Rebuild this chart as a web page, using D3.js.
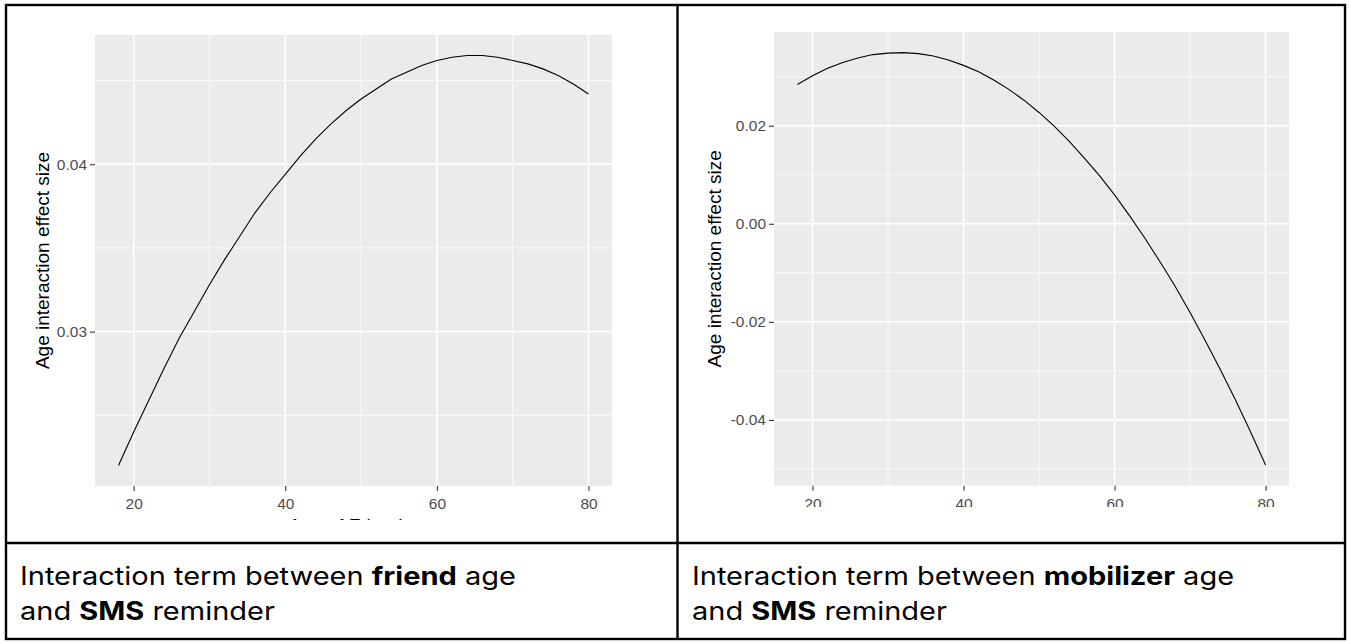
<!DOCTYPE html>
<html>
<head>
<meta charset="utf-8">
<script src="https://cdn.jsdelivr.net/npm/d3@7"></script>
<style>
  body { margin: 0; background: #fff; }
  svg { display: block; }
</style>
</head>
<body>
<svg id="page" width="1351" height="643"></svg>
<script>
// values, every 2 years of age
const ages = [18, 20, 22, 24, 26, 28, 30, 32, 34, 36, 38, 40, 42, 44, 46, 48,
  50, 52, 54, 56, 58, 60, 62, 64, 66, 68, 70, 72, 74, 76, 78, 80]

const friendEffect = [0.0220, 0.0240, 0.0259, 0.0278, 0.0296, 0.0312, 0.0328, 0.0343,
  0.0357, 0.0371, 0.0383, 0.0394, 0.0405, 0.0415, 0.0424, 0.0432,
  0.0439, 0.0445, 0.0451, 0.0455, 0.0459, 0.0462, 0.0464, 0.0465,
  0.0465, 0.0464, 0.0462, 0.0460, 0.0457, 0.0453, 0.0448, 0.0442]

const mobilizerEffect = [0.0284, 0.0302, 0.0317, 0.0329, 0.0338, 0.0345, 0.0348, 0.0349,
  0.0347, 0.0342, 0.0334, 0.0323, 0.0310, 0.0293, 0.0274, 0.0252,
  0.0227, 0.0199, 0.0168, 0.0134, 0.0098, 0.0059, 0.0016, -0.0029,
  -0.0077, -0.0127, -0.0181, -0.0238, -0.0297, -0.0359, -0.0424, -0.0492]

const xTicks = [20, 40, 60, 80]
const xMinor = [30, 50, 70]
const friendTicks = [0.03, 0.04]
const friendMinor = [0.025, 0.035, 0.045]
const mobilizerTicks = [-0.04, -0.02, 0.00, 0.02]
const mobilizerMinor = [-0.05, -0.03, -0.01, 0.01, 0.03]

const yTitle = "Age interaction effect size"
const friendXTitle = "Age of Friend"

const captions = [
  [["Interaction term between ", false], ["friend", true], [" age", false]],
  [["Interaction term between ", false], ["mobilizer", true], [" age", false]]
]
const captions2 = [
  [["and ", false], ["SMS", true], [" reminder", false]],
  [["and ", false], ["SMS", true], [" reminder", false]]
]

const svg = d3.select("#page")
const defs = svg.append("defs")

function drawPanel(opt) {
  defs.append("clipPath").attr("id", opt.id + "-clip")
    .append("rect")
    .attr("x", opt.clip[0]).attr("y", opt.clip[1])
    .attr("width", opt.clip[2]).attr("height", opt.clip[3])

  const g = svg.append("g").attr("clip-path", `url(#${opt.id}-clip)`)

  // ggplot style 5% expansion on both axes
  const xExt = d3.extent(ages)
  const xPad = (xExt[1] - xExt[0]) * 0.05
  const yExt = d3.extent(opt.values)
  const yPad = (yExt[1] - yExt[0]) * 0.05

  const x = d3.scaleLinear()
    .domain([xExt[0] - xPad, xExt[1] + xPad])
    .range([opt.left, opt.right])
  const y = d3.scaleLinear()
    .domain([yExt[0] - yPad, yExt[1] + yPad])
    .range([opt.bottom, opt.top])

  g.append("rect")
    .attr("x", opt.left).attr("y", opt.top)
    .attr("width", opt.right - opt.left).attr("height", opt.bottom - opt.top)
    .attr("fill", "#EBEBEB")

  // minor grid
  g.selectAll(".ymin").data(opt.minor).join("line")
    .attr("x1", opt.left).attr("x2", opt.right)
    .attr("y1", d => y(d)).attr("y2", d => y(d))
    .attr("stroke", "#fff").attr("stroke-width", 0.8)
  g.selectAll(".xmin").data(xMinor).join("line")
    .attr("y1", opt.top).attr("y2", opt.bottom)
    .attr("x1", d => x(d)).attr("x2", d => x(d))
    .attr("stroke", "#fff").attr("stroke-width", 0.8)
  // major grid
  g.selectAll(".ymaj").data(opt.ticks).join("line")
    .attr("x1", opt.left).attr("x2", opt.right)
    .attr("y1", d => y(d)).attr("y2", d => y(d))
    .attr("stroke", "#fff").attr("stroke-width", 1.5)
  g.selectAll(".xmaj").data(xTicks).join("line")
    .attr("y1", opt.top).attr("y2", opt.bottom)
    .attr("x1", d => x(d)).attr("x2", d => x(d))
    .attr("stroke", "#fff").attr("stroke-width", 1.5)

  const line = d3.line()
    .x((d, i) => x(ages[i]))
    .y(d => y(d))

  g.append("path")
    .datum(opt.values)
    .attr("d", line)
    .attr("fill", "none")
    .attr("stroke", "#000")
    .attr("stroke-width", 1.1)

  const xAxis = d3.axisBottom(x).tickValues(xTicks).tickSize(5).tickPadding(7)
  const yAxis = d3.axisLeft(y).tickValues(opt.ticks).tickSize(5).tickPadding(3)
    .tickFormat(d3.format(".2f"))

  const gx = g.append("g")
    .attr("transform", `translate(0,${opt.bottom})`)
    .call(xAxis)
  const gy = g.append("g")
    .attr("transform", `translate(${opt.left},0)`)
    .call(yAxis)

  for (const a of [gx, gy]) {
    a.select(".domain").remove()
    a.selectAll(".tick line").attr("stroke", "#333").attr("stroke-width", 1.1)
    a.selectAll(".tick text")
      .attr("fill", "#4D4D4D")
      .attr("font-family", "Liberation Sans, Arial, sans-serif")
      .attr("font-size", 15.5)
  }
  gy.selectAll(".tick text").text(d => d3.format(".2f")(d).replace("\u2212", "-"))

  g.append("text")
    .attr("transform", `translate(${opt.titleX},${(opt.top + opt.bottom) / 2}) rotate(-90)`)
    .attr("text-anchor", "middle")
    .attr("font-family", "Liberation Sans, Arial, sans-serif")
    .attr("font-size", 19)
    .attr("fill", "#000")
    .text(yTitle)

  if (opt.xTitle) {
    g.append("text")
      .attr("x", (opt.left + opt.right) / 2 - 8)
      .attr("y", 532)
      .attr("text-anchor", "middle")
      .attr("font-family", "Liberation Sans, Arial, sans-serif")
      .attr("font-size", 19)
      .attr("fill", "#000")
      .text(opt.xTitle)
  }
}

drawPanel({
  id: "friend", values: friendEffect, ticks: friendTicks, minor: friendMinor,
  left: 95, right: 612, top: 35, bottom: 486, titleX: 48.6,
  clip: [8, 23, 668, 497], xTitle: friendXTitle
})

drawPanel({
  id: "mobilizer", values: mobilizerEffect, ticks: mobilizerTicks, minor: mobilizerMinor,
  left: 774, right: 1289, top: 32, bottom: 485.7, titleX: 720.6,
  clip: [680, 8, 664, 499]
})

// table borders
const border = svg.append("g").attr("stroke", "#000").attr("stroke-width", 2.4).attr("fill", "none")
border.append("rect").attr("x", 6).attr("y", 5).attr("width", 1339).attr("height", 634)
border.append("line").attr("x1", 677.5).attr("x2", 677.5).attr("y1", 5).attr("y2", 639)
border.append("line").attr("x1", 6).attr("x2", 1345).attr("y1", 543).attr("y2", 543)

// captions (the source text is a little wide for its height)
const capX = [20, 692]
function writeLine(parts, x, yPos) {
  const t = svg.append("text")
    .attr("transform", `translate(${x},${yPos}) scale(1.16,1)`)
    .attr("font-family", "Inter, Roboto, sans-serif")
    .attr("font-size", 25)
    .attr("fill", "#000")
  parts.forEach(p => {
    t.append("tspan")
      .attr("font-weight", p[1] ? 700 : 400)
      .text(p[0])
  })
}
captions.forEach((c, i) => writeLine(c, capX[i], 585))
captions2.forEach((c, i) => writeLine(c, capX[i], 620))
</script>
</body>
</html>
